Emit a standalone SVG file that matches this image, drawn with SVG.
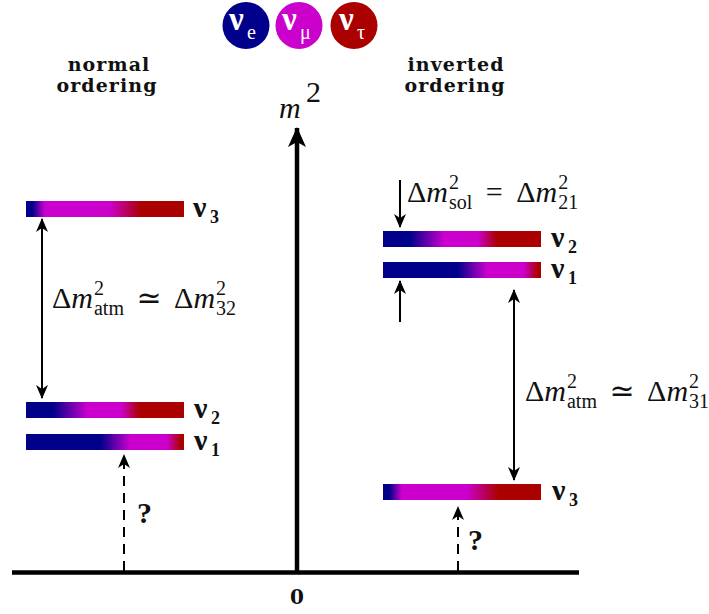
<svg xmlns="http://www.w3.org/2000/svg" width="709" height="614" viewBox="0 0 709 614">
<style>
.head{font-family:"DejaVu Serif","Liberation Serif",serif;font-weight:bold;font-size:19px;letter-spacing:1.1px;fill:#111;text-anchor:middle}
.math{font-family:"Liberation Serif","DejaVu Serif",serif;font-size:30px;fill:#111}
.it{font-style:italic}
.sm{font-size:20px}
.nu{font-family:"Liberation Serif","DejaVu Serif",serif;font-weight:bold;font-size:30px;fill:#111}
.nus{font-family:"Liberation Serif","DejaVu Serif",serif;font-weight:bold;font-size:18px;fill:#111}
.cnu{font-family:"Liberation Serif","DejaVu Serif",serif;font-weight:bold;font-size:33px;fill:#fff}
.csub{font-family:"Liberation Serif","DejaVu Serif",serif;font-size:20px;fill:#fff}
.conn{stroke:#000;stroke-width:2;fill:none}
.dash{stroke-dasharray:10 7}
</style>
<defs>
<marker id="ah" markerUnits="userSpaceOnUse" markerWidth="14" markerHeight="12" refX="13" refY="6" orient="auto-start-reverse">
<path d="M0,0 L14,6 L0,12 L4,6 z" fill="#000"/>
</marker>
<marker id="ahBig" markerUnits="userSpaceOnUse" markerWidth="20" markerHeight="18" refX="19" refY="9" orient="auto">
<path d="M0,0 L20,9 L0,18 L5,9 z" fill="#000"/>
</marker>
<linearGradient id="g3" x1="0" y1="0" x2="1" y2="0">
<stop offset="0" stop-color="#00008b"/><stop offset="0.04" stop-color="#00008b"/>
<stop offset="0.12" stop-color="#cc00cc"/><stop offset="0.53" stop-color="#cc00cc"/>
<stop offset="0.73" stop-color="#aa0000"/><stop offset="1" stop-color="#aa0000"/>
</linearGradient>
<linearGradient id="g2" x1="0" y1="0" x2="1" y2="0">
<stop offset="0" stop-color="#00008b"/><stop offset="0.17" stop-color="#00008b"/>
<stop offset="0.39" stop-color="#cc00cc"/><stop offset="0.6" stop-color="#cc00cc"/>
<stop offset="0.72" stop-color="#aa0000"/><stop offset="1" stop-color="#aa0000"/>
</linearGradient>
<linearGradient id="g1" x1="0" y1="0" x2="1" y2="0">
<stop offset="0" stop-color="#00008b"/><stop offset="0.47" stop-color="#00008b"/>
<stop offset="0.66" stop-color="#cc00cc"/><stop offset="0.89" stop-color="#cc00cc"/>
<stop offset="0.98" stop-color="#aa0000"/><stop offset="1" stop-color="#aa0000"/>
</linearGradient>
</defs>
<rect width="709" height="614" fill="#fff"/>

<g id="legend">
<g id="flavour-e"><circle cx="246" cy="25.5" r="23.5" fill="#00008b"/><text class="cnu" x="229" y="30">ν</text><text class="csub" x="247" y="39">e</text></g>
<g id="flavour-mu"><circle cx="299" cy="25.5" r="23.5" fill="#cc00cc"/><text class="cnu" x="282" y="30">ν</text><text class="csub" x="300" y="39">μ</text></g>
<g id="flavour-tau"><circle cx="354" cy="25.5" r="23.5" fill="#aa0000"/><text class="cnu" x="339" y="30">ν</text><text class="csub" x="357" y="39">τ</text></g>
</g>

<g id="heading-normal"><text class="head" x="109" y="71">normal</text><text class="head" x="107" y="92">ordering</text></g>
<g id="heading-inverted"><text class="head" x="456" y="71">inverted</text><text class="head" x="455" y="92">ordering</text></g>

<g id="axes">
<line x1="12" y1="572.5" x2="579" y2="572.5" stroke="#000" stroke-width="4.5"/>
<line x1="297" y1="572" x2="297" y2="128" stroke="#000" stroke-width="4.5" marker-end="url(#ahBig)"/>
<text x="297" y="604" font-family="'DejaVu Serif','Liberation Serif',serif" font-weight="bold" font-size="20" text-anchor="middle" fill="#111">0</text>
<text x="279" y="118" class="math it" font-size="34">m</text>
<text x="306" y="102" class="math" font-size="20">2</text>
</g>

<g id="normal-nu3"><rect x="26" y="201" width="158" height="16" fill="url(#g3)"/><text class="nu" x="193" y="217">ν</text><text class="nus" x="210" y="223">3</text></g>
<g id="normal-nu2"><rect x="26" y="402" width="158" height="16" fill="url(#g2)"/><text class="nu" x="194" y="418">ν</text><text class="nus" x="211" y="424">2</text></g>
<g id="normal-nu1"><rect x="26" y="434" width="158" height="16" fill="url(#g1)"/><text class="nu" x="194" y="450">ν</text><text class="nus" x="211" y="456">1</text></g>

<g id="inverted-nu2"><rect x="383" y="231" width="158" height="16" fill="url(#g2)"/><text class="nu" x="551" y="247">ν</text><text class="nus" x="568" y="253">2</text></g>
<g id="inverted-nu1"><rect x="383" y="262" width="158" height="16" fill="url(#g1)"/><text class="nu" x="551" y="278">ν</text><text class="nus" x="568" y="284">1</text></g>
<g id="inverted-nu3"><rect x="383" y="484" width="158" height="16" fill="url(#g3)"/><text class="nu" x="552" y="500">ν</text><text class="nus" x="569" y="506">3</text></g>

<g id="connectors">
<line class="conn" x1="42" y1="219" x2="42" y2="398" marker-start="url(#ah)" marker-end="url(#ah)"/>
<line class="conn dash" x1="124" y1="571" x2="124" y2="455" marker-end="url(#ah)"/>
<line class="conn" x1="400" y1="180" x2="400" y2="227" marker-end="url(#ah)"/>
<line class="conn" x1="400" y1="322" x2="400" y2="281" marker-end="url(#ah)"/>
<line class="conn" x1="514" y1="290" x2="514" y2="480" marker-start="url(#ah)" marker-end="url(#ah)"/>
<line class="conn dash" x1="458" y1="571" x2="458" y2="507" marker-end="url(#ah)"/>
</g>

<g id="labels">
<text class="math" x="52" y="308">Δ<tspan class="it">m</tspan><tspan class="sm" dx="1" dy="-13">2</tspan><tspan class="sm" dx="-10" dy="20">atm</tspan><tspan dx="5" dy="-7"> ≃ </tspan><tspan dx="5">Δ</tspan><tspan class="it">m</tspan><tspan class="sm" dx="1" dy="-13">2</tspan><tspan class="sm" dx="-10" dy="20">32</tspan></text>
<text class="math" x="407" y="202">Δ<tspan class="it">m</tspan><tspan class="sm" dx="1" dy="-13">2</tspan><tspan class="sm" dx="-10" dy="20">sol</tspan><tspan dx="6" dy="-7"> = </tspan><tspan dx="6">Δ</tspan><tspan class="it">m</tspan><tspan class="sm" dx="1" dy="-13">2</tspan><tspan class="sm" dx="-10" dy="20">21</tspan></text>
<text class="math" x="525" y="401">Δ<tspan class="it">m</tspan><tspan class="sm" dx="1" dy="-13">2</tspan><tspan class="sm" dx="-10" dy="20">atm</tspan><tspan dx="5" dy="-7"> ≃ </tspan><tspan dx="5">Δ</tspan><tspan class="it">m</tspan><tspan class="sm" dx="1" dy="-13">2</tspan><tspan class="sm" dx="-10" dy="20">31</tspan></text>
<text class="math" x="137" y="523" font-size="22" font-weight="bold">?</text>
<text class="math" x="468" y="550" font-size="22" font-weight="bold">?</text>
</g>
</svg>
